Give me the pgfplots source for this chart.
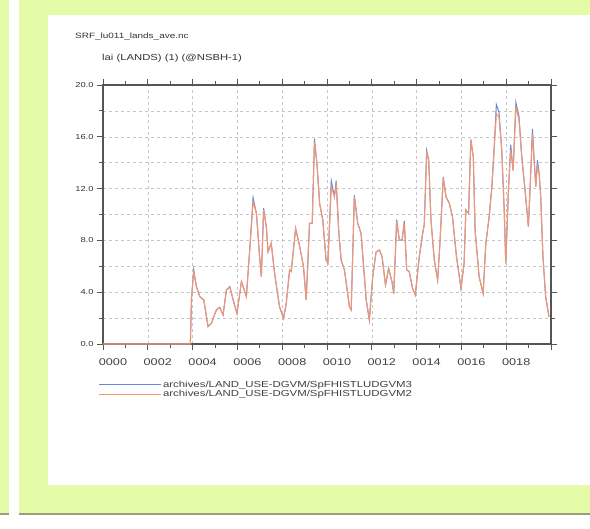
\documentclass[border=0pt]{standalone}
\usepackage{pgfplots}
\pgfplotsset{compat=1.18}
\usepackage{fontspec}
\setmainfont[FakeStretch=1.3]{Liberation Sans}
\definecolor{bggreen}{RGB}{228,251,168}
\definecolor{lineg}{RGB}{150,160,125}
\definecolor{serblue}{RGB}{105,135,220}
\definecolor{serorange}{RGB}{240,150,115}
\definecolor{axgray}{RGB}{85,85,85}
\begin{document}
\begin{tikzpicture}[x=1bp,y=1bp]
\path[use as bounding box] (0,0) rectangle (590,529);
\fill[white] (0,0) rectangle (590,529);
\fill[bggreen] (0,16) rectangle (9,529);
\fill[bggreen] (19,16) rectangle (590,529);
\fill[lineg] (0,14) rectangle (9,16);
\fill[lineg] (19,14) rectangle (590,16);
\fill[white] (48,44) rectangle (590,514);
\node[anchor=west, inner sep=0pt, font=\fontsize{7.7}{9}\selectfont, text=black!80] at (75,493) {SRF\_lu011\_lands\_ave.nc};
\node[anchor=west, inner sep=0pt, font=\fontsize{8.7}{9}\selectfont, text=black!80] at (102,471) {lai (LANDS) (1) (@NSBH-1)};
\begin{axis}[
  clip=false, axis on top=false,
  at={(103bp,185bp)}, anchor=south west,
  width=448bp, height=259bp, scale only axis,
  xmin=0, xmax=20, ymin=0, ymax=20,
  xtick={0,2,...,20},
  xticklabels={0000,0002,0004,0006,0008,0010,0012,0014,0016,0018,{}},
  minor x tick num=1,
  ytick={0,4,...,20},
  minor y tick num=1,
  xmajorgrids, ymajorgrids, yminorgrids,
  grid style={dashed, gray!45, line width=0.5bp},
  minor grid style={dashed, gray!45, line width=0.5bp},
  tick align=outside,
  major tick length=6bp, minor tick length=4bp,
  every tick/.style={axgray, line width=0.8bp},
  axis line style={axgray, line width=1.3bp},
  /pgf/number format/assume math mode=true,
  yticklabel style={/pgf/number format/fixed, /pgf/number format/fixed zerofill, /pgf/number format/precision=1, font=\fontsize{7.2}{8}\selectfont, text=black!80},
  xticklabel style={font=\fontsize{9.8}{10}\selectfont, text=black!75, xshift=10bp, yshift=-5bp},
  legend style={at={(axis description cs:-0.01,-0.137)}, anchor=north west, draw=none, fill=none, inner sep=0pt, font=\fontsize{8.8}{8}\selectfont, text=black!75, row sep=-0.8bp, nodes={inner sep=1.2bp}},
  legend cell align=left,
  legend image code/.code={\draw[#1, line width=1.2bp] (0bp,0bp) -- (56bp,0bp); \path (0bp,0bp) -- (62bp,0bp);},
]
\addplot[serblue, line width=1bp] coordinates {
(0,0) (3.9,0) (3.95,3.5) (4.05,5.75) (4.17,4.43) (4.32,3.66) (4.50,3.40) (4.69,1.34) (4.84,1.60) (5.06,2.63) (5.21,2.83) (5.36,2.24) (5.51,4.17) (5.66,4.43) (5.81,3.40) (5.98,2.37) (6.18,4.81) (6.40,3.66) (6.55,7.26) (6.70,11.3) (6.85,10.09) (6.99,6.74) (7.07,5.20) (7.17,10.5) (7.29,9.06) (7.37,7.13) (7.51,7.77) (7.66,5.46) (7.88,2.88) (8.06,1.98) (8.18,3.14) (8.33,5.71) (8.40,5.59) (8.60,8.93) (8.78,7.52) (8.95,5.97) (9.07,3.40) (9.22,9.32) (9.34,9.32) (9.44,15.85) (9.55,13.95) (9.67,10.86) (9.81,9.58) (9.96,6.49) (10.04,6.23) (10.19,12.6) (10.33,11.38) (10.41,12.6) (10.53,8.55) (10.63,6.49) (10.78,5.71) (11.00,2.88) (11.08,2.63) (11.22,11.5) (11.37,9.32) (11.52,8.55) (11.75,3.40) (11.89,1.85) (12.04,5.20) (12.19,7.1) (12.34,7.26) (12.46,6.74) (12.61,4.56) (12.75,5.84) (12.90,4.81) (12.98,3.9) (13.11,9.6) (13.23,8.03) (13.35,8.03) (13.45,9.5) (13.56,5.71) (13.67,5.59) (13.82,4.30) (13.94,3.78) (14.12,6.74) (14.27,8.55) (14.34,9.19) (14.45,14.95) (14.54,14.2) (14.64,9.58) (14.79,6.49) (14.94,4.94) (15.04,7.77) (15.19,12.9) (15.31,11.38) (15.46,10.86) (15.60,9.84) (15.78,6.74) (15.98,4.3) (16.12,6.23) (16.20,10.35) (16.32,10.1) (16.42,15.8) (16.53,14.46) (16.61,8.8) (16.79,5.2) (16.97,3.9) (17.09,7.77) (17.24,9.84) (17.36,12.15) (17.46,15.1) (17.56,18.5) (17.68,17.9) (17.80,14.98) (17.91,10.35) (17.98,6.23) (18.10,11.9) (18.20,15.4) (18.31,13.4) (18.43,18.65) (18.57,17.6) (18.69,14.6) (18.84,11.9) (18.99,9.06) (19.10,13.4) (19.17,16.6) (19.32,12.15) (19.39,14.2) (19.47,13.2) (19.54,11.38) (19.64,6.74) (19.76,3.66) (19.91,2.11)
};
\addlegendentry{archives/LAND\_USE-DGVM/SpFHISTLUDGVM3}
\addplot[serorange, line width=1.1bp] coordinates {
(0,0) (3.9,0) (3.95,3.5) (4.05,5.59) (4.17,4.43) (4.32,3.66) (4.50,3.40) (4.69,1.34) (4.84,1.60) (5.06,2.63) (5.21,2.83) (5.36,2.24) (5.51,4.17) (5.66,4.43) (5.81,3.40) (5.98,2.37) (6.18,4.81) (6.40,3.66) (6.55,7.26) (6.70,10.99) (6.85,10.09) (6.99,6.74) (7.07,5.20) (7.17,10.35) (7.29,9.06) (7.37,7.13) (7.51,7.77) (7.66,5.46) (7.88,2.88) (8.06,1.98) (8.18,3.14) (8.33,5.71) (8.40,5.59) (8.60,8.93) (8.78,7.52) (8.95,5.97) (9.07,3.40) (9.22,9.32) (9.34,9.32) (9.44,15.62) (9.55,13.95) (9.67,10.86) (9.81,9.58) (9.96,6.49) (10.04,6.23) (10.19,12.15) (10.33,11.38) (10.41,12.28) (10.53,8.55) (10.63,6.49) (10.78,5.71) (11.00,2.88) (11.08,2.63) (11.22,11.38) (11.37,9.32) (11.52,8.55) (11.75,3.40) (11.89,1.85) (12.04,5.20) (12.19,7.1) (12.34,7.26) (12.46,6.74) (12.61,4.56) (12.75,5.84) (12.90,4.81) (12.98,3.9) (13.11,9.45) (13.23,8.03) (13.35,8.03) (13.45,9.32) (13.56,5.71) (13.67,5.59) (13.82,4.30) (13.94,3.78) (14.12,6.74) (14.27,8.55) (14.34,9.19) (14.45,14.72) (14.54,14.2) (14.64,9.58) (14.79,6.49) (14.94,4.94) (15.04,7.77) (15.19,12.8) (15.31,11.38) (15.46,10.86) (15.60,9.84) (15.78,6.74) (15.98,4.3) (16.12,6.23) (16.20,10.35) (16.32,10.1) (16.42,15.75) (16.53,14.46) (16.61,8.8) (16.79,5.2) (16.97,3.9) (17.09,7.77) (17.24,9.84) (17.36,12.15) (17.46,14.98) (17.56,17.8) (17.68,17.5) (17.80,14.98) (17.91,10.35) (17.98,6.23) (18.10,11.9) (18.20,14.98) (18.31,13.4) (18.43,18.32) (18.57,17.3) (18.69,14.46) (18.84,11.9) (18.99,9.06) (19.10,13.4) (19.17,16.24) (19.32,12.15) (19.39,13.69) (19.47,13.2) (19.54,11.38) (19.64,6.74) (19.76,3.66) (19.91,2.11)
};
\addlegendentry{archives/LAND\_USE-DGVM/SpFHISTLUDGVM2}
\end{axis}
\end{tikzpicture}
\end{document}
